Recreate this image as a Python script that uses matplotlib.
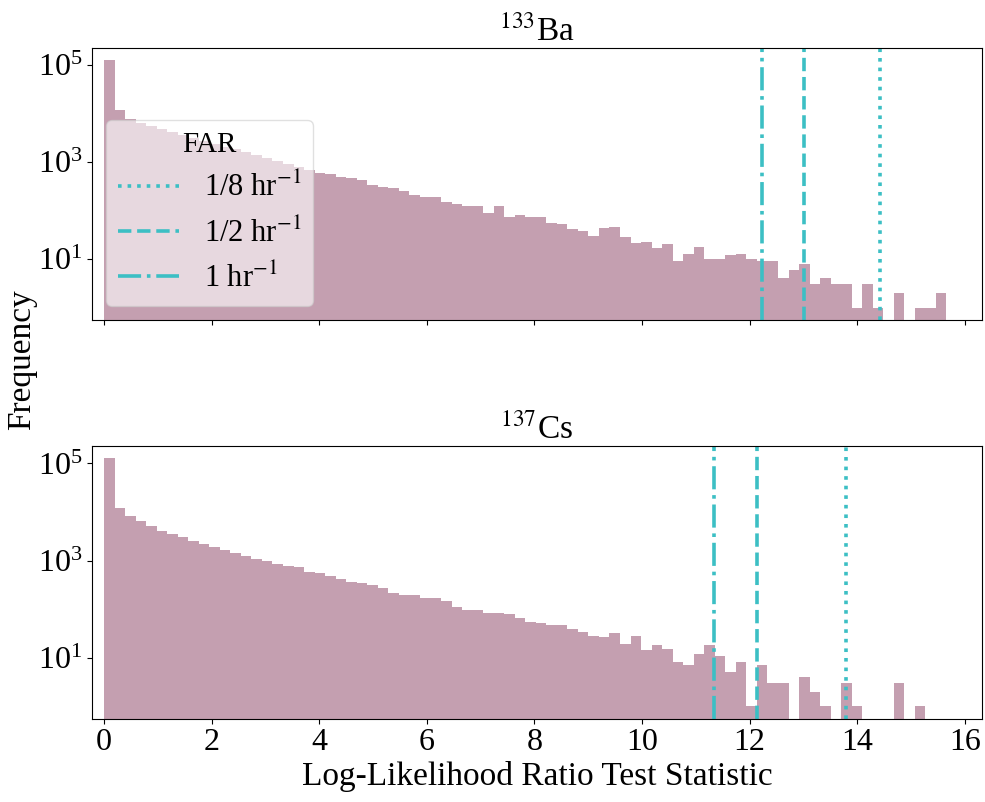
import numpy as np
import matplotlib
matplotlib.use("Agg")
import matplotlib.pyplot as plt
from matplotlib.lines import Line2D
from matplotlib.ticker import NullLocator, FixedLocator

plt.rcParams['font.family'] = ['Liberation Serif', 'DejaVu Serif']
plt.rcParams['mathtext.fontset'] = 'stix'

# ---- data ----
n_bins = 80
x_max = 15.66
bin_edges = np.linspace(0.0, x_max, n_bins + 1)

ba133_counts = [127000, 11800, 7800, 6280, 5470, 4770, 4150, 3610, 3150, 2740,
                2380, 2080, 1810, 1570, 1370, 1190, 1040, 906, 789, 687,
                598, 557, 500, 460, 425, 336, 301, 287, 252, 206,
                187, 187, 152, 134, 124, 124, 87, 124, 73, 82,
                75, 72, 55, 52, 42, 38, 30, 44, 45, 28,
                21, 23, 17, 20, 9, 13, 18, 10, 10, 12,
                13, 10, 9, 9, 4, 6, 8, 3, 4, 3,
                3, 1, 3, 1, 0, 2, 0, 1, 1, 2]

cs137_counts = [127000, 12000, 8220, 6400, 5130, 4100, 3500, 3000, 2550, 2190,
                1860, 1640, 1400, 1240, 1060, 990, 847, 782, 735, 589,
                553, 487, 416, 355, 344, 313, 268, 214, 195, 195,
                172, 172, 147, 109, 96, 96, 84, 84, 79, 64,
                55, 51, 47, 47, 39, 33, 28, 27, 32, 19,
                28, 14, 18, 15, 8, 7, 12, 18, 11, 5,
                8, 1, 7, 3, 3, 0, 4, 2, 1, 0,
                3, 1, 0, 0, 0, 3, 0, 1, 0, 0]

far_labels = [r'1/8 hr$^{-1}$', r'1/2 hr$^{-1}$', r'1 hr$^{-1}$']
far_styles = [':', '--', '-.']
ba133_thresholds = [14.43, 13.01, 12.23]
cs137_thresholds = [13.80, 12.14, 11.34]

titles = [r'$^{133}$Ba', r'$^{137}$Cs']
xlabel = 'Log-Likelihood Ratio Test Statistic'
ylabel = 'Frequency'

bar_color = '#c49fb0'
line_color = '#3cbfc4'

# ---- figure ----
W, H = 985, 802
fig = plt.figure(figsize=(W / 100, H / 100), dpi=100)

left = 92 / W
width = 890 / W
ax_h = 272.5 / H
ax1 = fig.add_axes([left, 1 - 320 / H, width, ax_h])
ax2 = fig.add_axes([left, 1 - 718.5 / H, width, ax_h], sharex=ax1)

centers = 0.5 * (bin_edges[:-1] + bin_edges[1:])
for ax, counts, thr, title in [(ax1, ba133_counts, ba133_thresholds, titles[0]),
                                (ax2, cs137_counts, cs137_thresholds, titles[1])]:
    ax.hist(centers, bins=bin_edges, weights=counts, log=True,
            color=bar_color)
    for t, ls in zip(thr, far_styles):
        ax.axvline(t, color=line_color, ls=ls, lw=2.6)
    ax.set_title(title, fontsize=24, pad=5)
    ax.yaxis.set_major_locator(FixedLocator([1e1, 1e3, 1e5]))
    ax.yaxis.set_minor_locator(NullLocator())
    ax.tick_params(axis='both', labelsize=23)

ax1.set_xlim(-0.223, 16.32)
ax1.tick_params(axis='x', labelbottom=False)
ax2.set_xlabel(xlabel, fontsize=24, labelpad=3)

handles = [Line2D([], [], color=line_color, ls=ls, lw=2.6) for ls in far_styles]
leg = ax1.legend(handles, far_labels, title='FAR', loc='lower left',
                 fontsize=22, title_fontsize=21, framealpha=0.6,
                 borderaxespad=0.45)

fig.text(22 / W, 1 - 360 / H, ylabel, rotation=90, ha='center', va='center',
         fontsize=24)

fig.savefig('out.png', dpi=100)
